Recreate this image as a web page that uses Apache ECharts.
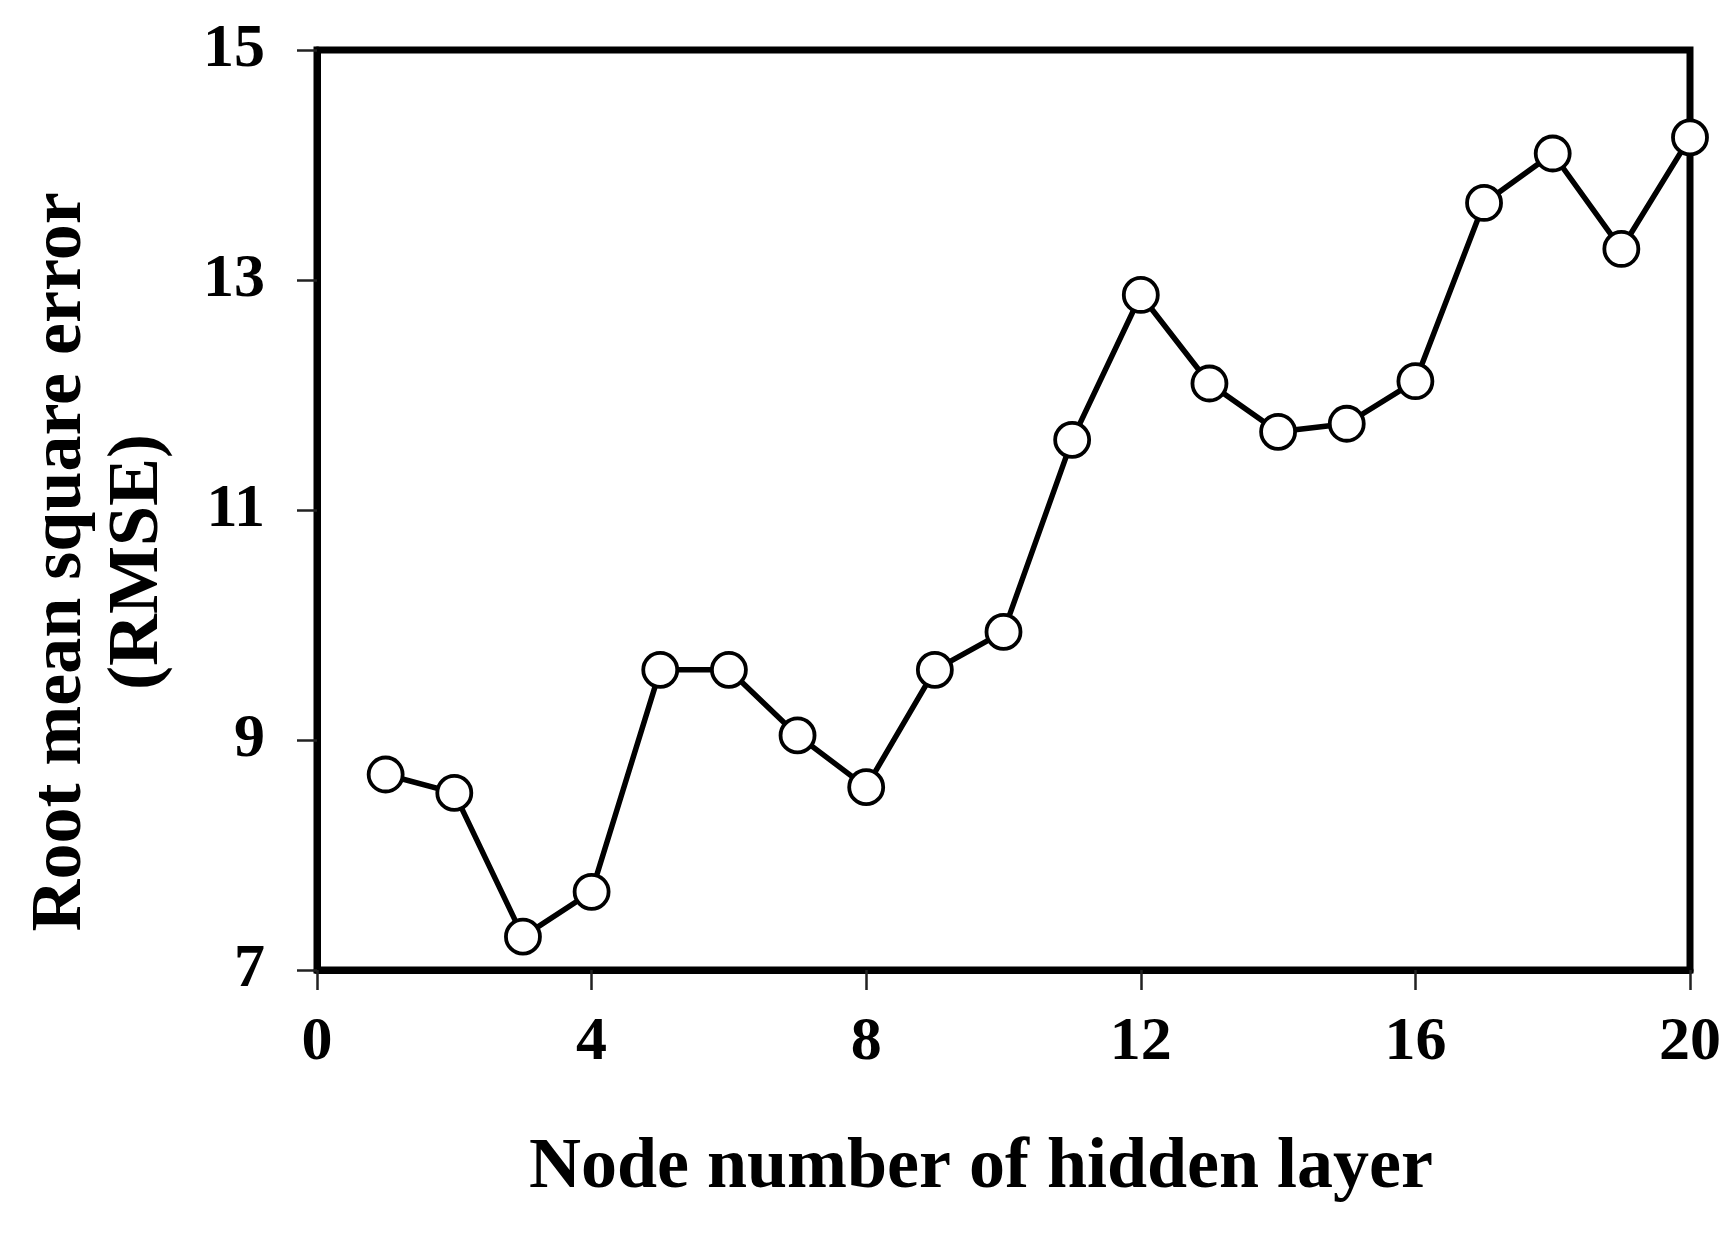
<!DOCTYPE html>
<html>
<head>
<meta charset="utf-8">
<title>RMSE vs hidden nodes</title>
<script src="https://cdn.jsdelivr.net/npm/echarts@6/dist/echarts.min.js"></script>
<style>
  html, body { margin: 0; padding: 0; background: #fff; }
  #chart { width: 1735px; height: 1236px; }
</style>
</head>
<body>
<div id="chart"></div>
<script>
// data
const nodeNumbers = [1, 2, 3, 4, 5, 6, 7, 8, 9, 10, 11, 12, 13, 14, 15, 16, 17, 18, 19, 20];
const rmseValues = [8.70, 8.54, 7.29, 7.68, 9.61, 9.61, 9.04, 8.59, 9.61, 9.94,
                    11.61, 12.87, 12.10, 11.68, 11.75, 12.12, 13.67, 14.10, 13.27, 14.24];
const xTicks = [0, 4, 8, 12, 16, 20];
const yTicks = [7, 9, 11, 13, 15];

const xTitle = 'Node number of hidden layer';
const yTitleLine1 = 'Root mean square error';
const yTitleLine2 = '(RMSE)';

const FONT = '"Liberation Serif", "Times New Roman", serif';

const chart = echarts.init(document.getElementById('chart'));

const seriesData = nodeNumbers.map((n, i) => [n, rmseValues[i]]);

const option = {
    backgroundColor: '#fff',
    animation: false,
    grid: {
        left: 317,
        right: 45,
        top: 50,
        bottom: 266,
        show: true,
        borderColor: '#000',
        borderWidth: 7,
        backgroundColor: 'transparent'
    },
    xAxis: {
        type: 'value',
        min: xTicks[0],
        max: xTicks[xTicks.length - 1],
        interval: 4,
        splitLine: { show: false },
        axisLine: { show: true, lineStyle: { color: '#000', width: 7 } },
        axisTick: { show: true, inside: false, length: 20, lineStyle: { color: '#222', width: 2.5 } },
        axisLabel: {
            margin: 42,
            color: '#000',
            fontFamily: FONT,
            fontWeight: 'bold',
            fontSize: 62
        }
    },
    yAxis: {
        type: 'value',
        min: yTicks[0],
        max: yTicks[yTicks.length - 1],
        interval: 2,
        splitLine: { show: false },
        axisLine: { show: true, lineStyle: { color: '#000', width: 7 } },
        axisTick: { show: true, inside: false, length: 20, lineStyle: { color: '#222', width: 2.5 } },
        axisLabel: {
            margin: 52,
            color: '#000',
            fontFamily: FONT,
            fontWeight: 'bold',
            fontSize: 62
        }
    },
    series: [
        {
            type: 'line',
            data: seriesData,
            symbol: 'circle',
            symbolSize: 34,
            lineStyle: { color: '#000', width: 5.5 },
            itemStyle: { color: '#fff', borderColor: '#000', borderWidth: 3.8 },
            z: 5
        }
    ],
    graphic: [
        {
            type: 'text',
            x: 981,
            y: 1168,
            style: {
                text: xTitle,
                font: 'bold 72px ' + FONT,
                fill: '#000',
                textAlign: 'center',
                textVerticalAlign: 'middle'
            }
        },
        {
            type: 'text',
            x: 61,
            y: 562,
            rotation: Math.PI / 2,
            style: {
                text: yTitleLine1,
                font: 'bold 72px ' + FONT,
                fill: '#000',
                textAlign: 'center',
                textVerticalAlign: 'middle'
            }
        },
        {
            type: 'text',
            x: 138,
            y: 562,
            rotation: Math.PI / 2,
            style: {
                text: yTitleLine2,
                font: 'bold 72px ' + FONT,
                fill: '#000',
                textAlign: 'center',
                textVerticalAlign: 'middle'
            }
        }
    ]
};

chart.setOption(option);
</script>
</body>
</html>
